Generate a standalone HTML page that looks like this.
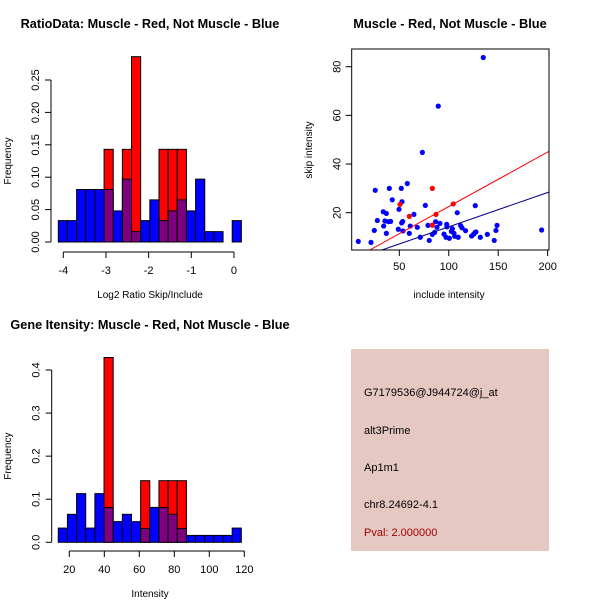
<!DOCTYPE html>
<html><head><meta charset="utf-8"><style>
body{margin:0;background:#fff}
svg{display:block;font-family:"Liberation Sans",sans-serif}
</style></head><body>
<svg id="c" width="600" height="600" xmlns="http://www.w3.org/2000/svg">
<rect width="600" height="600" fill="#fff"/>
<g id="p1"></g>
<g id="p2"></g>
<g id="p3"></g>
<g>
<rect x="351" y="349" width="198" height="202" fill="#e6c8c2"/>
<g font-size="11" fill="#000">
<text x="364" y="396">G7179536@J944724@j_at</text>
<text x="364" y="434">alt3Prime</text>
<text x="364" y="471">Ap1m1</text>
<text x="364" y="508">chr8.24692-4.1</text>
<text x="364" y="536" fill="#a00000">Pval: 2.000000</text>
</g></g>
</svg>
<script>
// histogram 1 data
const h1Blue=[0.033,0.033,0.081,0.081,0.081,0.081,0.048,0.097,0.016,0.033,0.065,0.033,0.048,0.065,0.048,0.097,0.016,0.016,0,0.033];
const h1Red=[0,0,0,0,0,0.143,0,0.143,0.286,0,0,0.143,0.143,0.143,0,0,0,0,0,0];
const h1XTicks=[-4,-3,-2,-1,0];
const h1YTicks=[0,0.05,0.1,0.15,0.2,0.25];
// histogram 2 data
const h2Blue=[0.033,0.065,0.113,0.033,0.113,0.081,0.048,0.065,0.048,0.032,0.081,0.081,0.065,0.032,0.016,0.016,0.016,0.016,0.016,0.033];
const h2Red=[0,0,0,0,0,0.429,0,0,0,0.143,0,0.143,0.143,0.143,0,0,0,0,0,0];
const h2XTicks=[20,40,60,80,100,120];
const h2YTicks=[0,0.1,0.2,0.3,0.4];
// scatter data
const blueX=[8.5,21.4,25.7,24.7,27.8,33.8,36.9,34.2,35.5,36.9,38.9,41.2,39.9,42.9,49.7,49,52,52.7,52.4,53.4,53.7,58.1,61.1,60.1,64.8,68.2,71.2,73.3,76.3,79,80.3,83.4,85.7,86.7,88.1,89.4,91.1,95.2,97.9,98.2,97.2,100.6,102.6,103.6,105.3,106,108.6,109.6,112,113.4,117,123.1,125.2,126.5,126.8,127.5,131.9,134.9,139,146,147.7,148.8,193.9];
const blueY=[8.2,7.8,29.2,12.7,16.8,20.4,19.7,14.5,16.6,11.5,16.3,16.4,30,25.3,21.4,13.2,30,24.5,15.8,16.4,12.5,32,14.5,11.5,19.3,14,9.9,44.8,23,14.8,8.6,11.1,11.9,16.3,14,63.8,15.6,11.2,15.2,14.2,9.9,9.5,12.3,13.4,11.5,10.3,20,9.9,14.7,13.8,12.6,10.4,11.2,11.8,22.9,12.1,9.9,83.8,11.1,8.6,12.7,14.8,12.9];
const redX=[50.7,60.1,83.4,87.1,104.6,83.4];
const redY=[23.4,18.5,30,19.3,23.6,14.9];
const redLine=[0.15,0.2238];
const blueLine=[0.1,0.141];
const sXTicks=[50,100,150,200];
const sYTicks=[20,40,60,80];

const NS="http://www.w3.org/2000/svg";
function mk(par,tag,attrs){const e=document.createElementNS(NS,tag);for(const k in attrs)e.setAttribute(k,attrs[k]);par.appendChild(e);return e;}
function txt(par,x,y,s,attrs){const t=mk(par,'text',Object.assign({x:x,y:y,'text-anchor':'middle','font-size':11},attrs||{}));t.textContent=s;return t;}

function hist(g,blue,red,x0,bw,sx,sy,xt,yt,yAxisX,xAxisY,title,xlab,titleY,fmtY){
  for(let i=0;i<blue.length;i++){
    const xa=sx(x0+i*bw), xb=sx(x0+(i+1)*bw);
    if(red[i]>0){const r=mk(g,'rect',{x:xa,y:sy(red[i]),width:xb-xa,height:sy(0)-sy(red[i]),fill:'#ff0000',stroke:'#000','stroke-width':1});
      
      }
    if(blue[i]>0){const b=mk(g,'rect',{x:xa,y:sy(blue[i]),width:xb-xa,height:sy(0)-sy(blue[i]),fill:red[i]>0?'#7f007f':'#0000ff',stroke:'#000','stroke-width':1});
      
      }
  }
  mk(g,'line',{x1:yAxisX,x2:yAxisX,y1:sy(yt[0]),y2:sy(yt[yt.length-1]),stroke:'#000'});
  yt.forEach(v=>{mk(g,'line',{x1:yAxisX-6,x2:yAxisX,y1:sy(v),y2:sy(v),stroke:'#000'});
    const t=txt(g,yAxisX-12,sy(v),fmtY(v),{transform:'rotate(-90 '+(yAxisX-12)+' '+sy(v)+')'});
    
    });
  mk(g,'line',{x1:sx(xt[0]),x2:sx(xt[xt.length-1]),y1:xAxisY,y2:xAxisY,stroke:'#000'});
  xt.forEach(v=>{mk(g,'line',{x1:sx(v),x2:sx(v),y1:xAxisY,y2:xAxisY+6,stroke:'#000'});
    const t=txt(g,sx(v),xAxisY+22,String(v));
    
    });
  const ti=txt(g,150,titleY,title,{'font-weight':'bold','font-size':12.7});
  
  
  const xl=txt(g,150,xAxisY+46,xlab,{'font-size':10});
  
  
  const cy=(sy(yt[0])+sy(yt[yt.length-1]))/2;
  const yl=txt(g,11,cy,'Frequency',{'font-size':10,transform:'rotate(-90 11 '+cy+')'});
  
  
}
// plot 1
(function(){
  const g=document.getElementById('p1');
  const sx=v=>63.3+(v+4)*42.67, sy=v=>242-v*648;
  hist(g,h1Blue,h1Red,-4.117,0.2145,sx,sy,h1XTicks,h1YTicks,51,252,'RatioData: Muscle - Red, Not Muscle - Blue','Log2 Ratio Skip/Include',28,v=>v.toFixed(2));
})();
// plot 3
(function(){
  const g=document.getElementById('p3');
  const sx=v=>69.3+(v-20)*1.75, sy=v=>542.3-v*430.8;
  hist(g,h2Blue,h2Red,13.7,5.23,sx,sy,h2XTicks,h2YTicks,51.7,551,'Gene Itensity: Muscle - Red, Not Muscle - Blue','Intensity',329,v=>v.toFixed(1));
})();
// scatter
(function(){
  const g=document.getElementById('p2');
  const sx=v=>399.3+(v-50)*0.989, sy=v=>212.7-(v-20)*2.433;
  const L=351.7,R=549,T=49,B=250;
  mk(g,'defs',{}).innerHTML='<clipPath id="cl"><rect x="'+L+'" y="'+T+'" width="'+(R-L)+'" height="'+(B-T)+'"/></clipPath>';
  const pg=mk(g,'g',{'clip-path':'url(#cl)'});
  for(let i=0;i<blueX.length;i++){const c=mk(pg,'circle',{cx:sx(blueX[i]),cy:sy(blueY[i]),r:2.6,fill:'#0000ff'});
    
    }
  for(let i=0;i<redX.length;i++){const c=mk(pg,'circle',{cx:sx(redX[i]),cy:sy(redY[i]),r:2.6,fill:'#ff0000'});
    
    }
  const l1=mk(pg,'line',{x1:sx(0),y1:sy(redLine[0]),x2:sx(220),y2:sy(redLine[0]+redLine[1]*220),stroke:'#ff0000'});
  
  
  const l2=mk(pg,'line',{x1:sx(0),y1:sy(blueLine[0]),x2:sx(220),y2:sy(blueLine[0]+blueLine[1]*220),stroke:'#00008b'});
  
  
  mk(g,'rect',{x:L,y:T,width:R-L,height:B-T,fill:'none',stroke:'#000'});
  sXTicks.forEach(v=>{mk(g,'line',{x1:sx(v),x2:sx(v),y1:B,y2:B+6,stroke:'#000'});
    const t=txt(g,sx(v),B+20,String(v));
    
    });
  sYTicks.forEach(v=>{mk(g,'line',{x1:L-6,x2:L,y1:sy(v),y2:sy(v),stroke:'#000'});
    const t=txt(g,L-11,sy(v),String(v),{transform:'rotate(-90 '+(L-11)+' '+sy(v)+')'});
    
    });
  const ti=txt(g,450,28,'Muscle - Red, Not Muscle - Blue',{'font-weight':'bold','font-size':12.8});
  
  
  const xl=txt(g,449,298,'include intensity',{'font-size':10});
  
  
  const yl=txt(g,312,150,'skip intensity',{'font-size':10,transform:'rotate(-90 312 150)'});
  
  
})();
</script>
</body></html>
